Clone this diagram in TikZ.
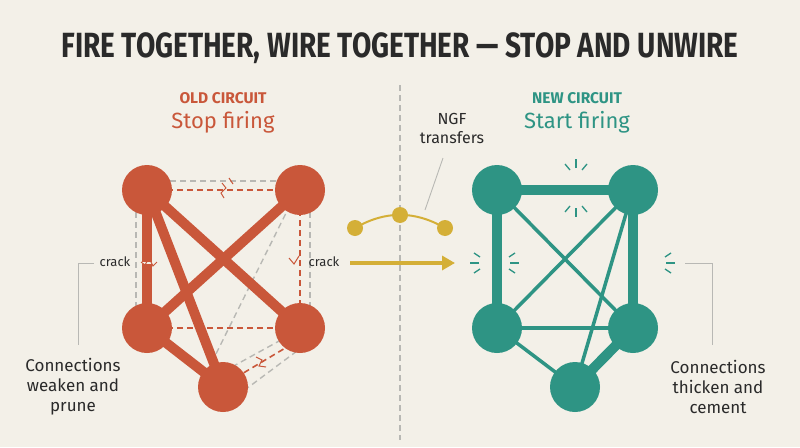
\documentclass[tikz,border=0pt]{standalone}
\usepackage{fontspec}
\setmainfont{Fira Sans}
\usetikzlibrary{arrows.meta}
\definecolor{bg}{HTML}{F3F0E8}
\definecolor{rd}{HTML}{C9573A}
\definecolor{tl}{HTML}{2E9484}
\definecolor{gd}{HTML}{D4AF37}
\definecolor{gr}{HTML}{B8B8B4}
\definecolor{ink}{HTML}{2A2A2A}
\begin{document}
\begin{tikzpicture}[x=1pt,y=-1pt,
  rn/.style={circle,fill=rd,minimum size=50pt,inner sep=0pt},
  tn/.style={circle,fill=tl,minimum size=50pt,inner sep=0pt},
  thickR/.style={rd,line width=10pt},
  dashR/.style={rd,line width=1.6pt,dash pattern=on 6pt off 4pt},
  dashG/.style={gr,line width=1.4pt,dash pattern=on 6pt off 4pt},
  thickT/.style={tl,line width=10pt},
  thinT/.style={tl,line width=3.5pt},
  spark/.style={tl,line width=1.3pt},
  lead/.style={gr,line width=0.9pt},
  lbl/.style={font=\fontsize{17}{20}\selectfont,text=ink,align=center}]
\fill[bg] (0,0) rectangle (800,447);
\useasboundingbox (0,0) rectangle (800,447);
\node (title) at (400,48) {\fontsize{35}{38}\selectfont\bfseries\color{ink}\addfontfeatures{FakeStretch=0.8}FIRE TOGETHER, WIRE TOGETHER — STOP AND UNWIRE};
\node (oc) at (223,98) {\fontsize{15.5}{18}\selectfont\bfseries\color{rd}OLD CIRCUIT};
\node (sf) at (223,122) {\fontsize{22}{25}\selectfont\color{rd}Stop firing};
\node (nc) at (577,98) {\fontsize{15.5}{18}\selectfont\bfseries\color{tl}NEW CIRCUIT};
\node (stf) at (577,122) {\fontsize{22}{25}\selectfont\color{tl}Start firing};
% divider
\coordinate (d1) at (400,85); \coordinate (d2) at (400,440);
\draw[dashG] (d1) -- (d2);
% left circuit
\coordinate (a) at (147,190); \coordinate (b) at (300,190);
\coordinate (c) at (147,328); \coordinate (d) at (300,328);
\coordinate (e) at (223,387);
\draw[dashG] (170,181)--(297,181); \draw[dashG] (136,212)--(136,310);
\draw[dashG] (310,212)--(310,310); \draw[dashG] (290,205)--(208,370);
\draw[dashG] (305,345)--(238,395); \draw[dashG] (290,335)--(230,368);
\draw[dashR] (a)--(b); \draw[dashR] (b)--(d); \draw[dashR] (c)--(d);
\draw[dashR] (292,344)--(235,378);
\draw[thickR] (a)--(c); \draw[thickR] (a)--(d); \draw[thickR] (b)--(c);
\draw[thickR] (a)--(e); \draw[thickR] (c)--(e);
\node[rn] (A) at (a) {}; \node[rn] (B) at (b) {}; \node[rn] (C) at (c) {};
\node[rn] (D) at (d) {}; \node[rn] (E) at (e) {};
% cracks
\draw[rd,line width=1pt] (222,183)--(226,188)--(221,193)--(224,198);
\draw[rd,line width=1pt] (229,178)--(233,184);
\draw[bg,line width=2.5pt] (140,263)--(155,263);
\draw[rd,line width=1pt] (141,262)--(145,265)--(149,258)--(153,266)--(157,262);
\draw[rd,line width=1pt] (289,258)--(294,264)--(299,256);
\draw[rd,line width=1pt] (256,357)--(262,360)--(259,366)--(266,367);
\node[font=\fontsize{13}{15}\selectfont,text=ink] (ck1) at (115,262) {crack};
\node[font=\fontsize{13}{15}\selectfont,text=ink] (ck2) at (324,262) {crack};
\coordinate (l1) at (94,263); \coordinate (l2) at (78,263); \coordinate (l3) at (78,345);
\draw[lead] (l1)--(l2)--(l3);
\node[lbl] (wl) at (73,387) {Connections\\weaken and\\prune};
% right circuit
\coordinate (p) at (497,190); \coordinate (q) at (633,190);
\coordinate (r) at (497,328); \coordinate (s) at (633,328);
\coordinate (t) at (575,387);
\draw[thinT] (p)--(s); \draw[thinT] (q)--(r); \draw[thinT] (q)--(t);
\draw[thinT] (r)--(s); \draw[thinT] (r)--(t);
\draw[thickT] (p)--(q); \draw[thickT] (p)--(r); \draw[thickT] (q)--(s); \draw[thickT] (s)--(t);
\node[tn] (P) at (p) {}; \node[tn] (Q) at (q) {}; \node[tn] (R) at (r) {};
\node[tn] (S) at (s) {}; \node[tn] (T) at (t) {};
% sparks
\foreach \dx/\dy/\ex/\ey in {0/-22/0/-31, -6/-20/-11/-26, 6/-20/11/-26, 0/18/0/27, -6/16/-11/22, 6/16/11/22}
  \draw[spark] (576+\dx,190+\dy)--(576+\ex,190+\ey);
\foreach \dx/\dy/\ex/\ey in {-18/0/-27/0, -17/-6/-23/-10, -17/6/-23/10, 13/0/22/0, 12/-6/18/-10, 12/6/18/10}
  \draw[spark] (497+\dx,263+\dy)--(497+\ex,263+\ey);
\foreach \dx/\dy/\ex/\ey in {13/0/22/0, 12/-6/18/-10, 12/6/18/10}
  \draw[spark] (653+\dx,263+\dy)--(653+\ex,263+\ey);
\coordinate (m1) at (685,263); \coordinate (m2) at (712,263); \coordinate (m3) at (712,345);
\draw[lead] (m1)--(m2)--(m3);
\node[lbl] (wr) at (718,387) {Connections\\thicken and\\cement};
% NGF
\coordinate (g1) at (355,228); \coordinate (g2) at (400,215); \coordinate (g3) at (445,228);
\draw[gd,line width=2pt] (g1) to[bend left=30] (g3);
\node[circle,fill=gd,minimum size=16pt,inner sep=0pt] (G1) at (g1) {};
\node[circle,fill=gd,minimum size=16pt,inner sep=0pt] (G2) at (g2) {};
\node[circle,fill=gd,minimum size=16pt,inner sep=0pt] (G3) at (g3) {};
\coordinate (ar1) at (350,263); \coordinate (ar2) at (455,263);
\draw[gd,line width=3.5pt,-{Triangle[length=13pt,width=14pt]}] (ar1)--(ar2);
\node[font=\fontsize{16}{19}\selectfont,text=ink,align=center] (ngf) at (452,128) {NGF\\transfers};
\coordinate (n1) at (443,158); \coordinate (n2) at (425,210);
\draw[lead] (n1)--(n2);
\end{tikzpicture}
\end{document}
